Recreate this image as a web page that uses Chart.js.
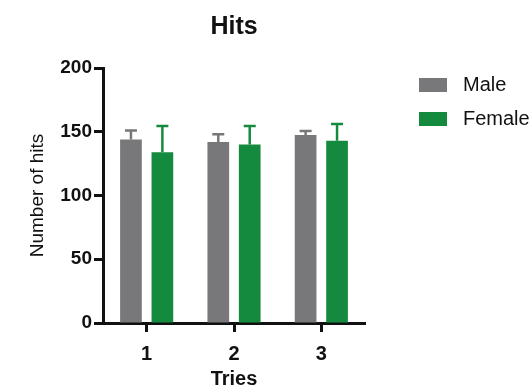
<!DOCTYPE html>
<html>
<head>
<meta charset="utf-8">
<script src="https://cdn.jsdelivr.net/npm/chart.js@4"></script>
<style>
	html, body { margin: 0; padding: 0; background: #fff; }
	#wrap { width: 529px; height: 390px; }
</style>
</head>
<body>
<div id="wrap"><canvas id="hitsChart"></canvas></div>
<script>
var tries = ['1', '2', '3'];
var maleMean = [144, 142, 147.5];
var maleSD = [7, 6, 3];
var femaleMean = [134, 140, 143];
var femaleSD = [20.5, 14.5, 13];
var yTicks = [0, 50, 100, 150, 200];

var grey = '#78787a';
var green = '#148a3f';
var fontFamily = '"Liberation Sans", Arial, sans-serif';

(function(window, document, undefined) {
	// upper error bars only, like the original plot
	var errorBars = {
		id: 'errorBars',
		afterDatasetsDraw: function(chart) {
			var ctx = chart.ctx;
			var yScale = chart.scales.y;
			chart.data.datasets.forEach(function(ds, i) {
				var meta = chart.getDatasetMeta(i);
				ctx.save();
				ctx.strokeStyle = ds.backgroundColor;
				ctx.lineWidth = 2.5;
				meta.data.forEach(function(bar, j) {
					var top = yScale.getPixelForValue(ds.data[j] + ds.errors[j]);
					ctx.beginPath();
					ctx.moveTo(bar.x, bar.y);
					ctx.lineTo(bar.x, top);
					ctx.moveTo(bar.x - 6, top);
					ctx.lineTo(bar.x + 6, top);
					ctx.stroke();
				});
				ctx.restore();
			});
		}
	};

	var sideLegend = {
		id: 'sideLegend',
		afterDraw: function(chart) {
			var ctx = chart.ctx;
			var area = chart.chartArea;
			var x = area.right + 54;
			var y = area.top + 17;
			ctx.save();
			ctx.font = '20px ' + fontFamily;
			ctx.textBaseline = 'middle';
			chart.data.datasets.forEach(function(ds, i) {
				var cy = y + i * 34;
				ctx.fillStyle = ds.backgroundColor;
				ctx.fillRect(x, cy - 7, 28, 14);
				ctx.fillStyle = '#111';
				ctx.fillText(ds.label, x + 44, cy);
			});
			ctx.restore();
		}
	};

	document.addEventListener('DOMContentLoaded', function() {
		var ctx = document.querySelector('#hitsChart');
		var hitsChart = new Chart(ctx, {
			type: 'bar',
			data: {
				labels: tries,
				datasets: [{
					label: 'Male',
					data: maleMean,
					errors: maleSD,
					backgroundColor: grey,
					categoryPercentage: 0.72,
					barPercentage: 0.69
				}, {
					label: 'Female',
					data: femaleMean,
					errors: femaleSD,
					backgroundColor: green,
					categoryPercentage: 0.72,
					barPercentage: 0.69
				}]
			},
			options: {
				responsive: true,
				maintainAspectRatio: false,
				animation: false,
				layout: {
					padding: { left: 0, right: 164, top: 0, bottom: 0 }
				},
				plugins: {
					legend: { display: false },
					tooltip: { enabled: false },
					title: {
						display: true,
						text: 'Hits',
						fullSize: false,
						color: '#111',
						font: { family: fontFamily, size: 25, weight: 'bold', lineHeight: 1.2 },
						padding: { top: 12, bottom: 26 }
					}
				},
				scales: {
					x: {
						offset: true,
						grid: {
							offset: false,
							drawOnChartArea: false,
							drawTicks: true,
							tickLength: 9,
							tickWidth: 3,
							tickColor: '#111'
						},
						border: { display: true, color: '#111', width: 3 },
						ticks: {
							color: '#111',
							padding: 10,
							font: { family: fontFamily, size: 20, weight: 'bold' }
						},
						title: {
							display: true,
							text: 'Tries',
							color: '#111',
							font: { family: fontFamily, size: 20, weight: 'bold', lineHeight: 1.1 },
							padding: { top: 0, bottom: 0 }
						},
						afterFit: function(scale) {
							scale.height = 67;
						}
					},
					y: {
						min: 0,
						max: 200,
						afterBuildTicks: function(scale) {
							scale.ticks = yTicks.map(function(v) { return { value: v }; });
						},
						grid: {
							drawOnChartArea: false,
							drawTicks: true,
							tickLength: 9,
							tickWidth: 3,
							tickColor: '#111'
						},
						border: { display: true, color: '#111', width: 3 },
						ticks: {
							color: '#111',
							padding: 2,
							font: { family: fontFamily, size: 19, weight: 'bold' }
						},
						title: {
							display: true,
							text: 'Number of hits',
							color: '#111',
							font: { family: fontFamily, size: 19, weight: 'normal', lineHeight: 1.2 },
							padding: { top: 26, bottom: 0 }
						},
						afterFit: function(scale) {
							scale.width = 103;
						}
					}
				}
			},
			plugins: [errorBars, sideLegend]
		});
	}, false);
})(window, document);
</script>
</body>
</html>
